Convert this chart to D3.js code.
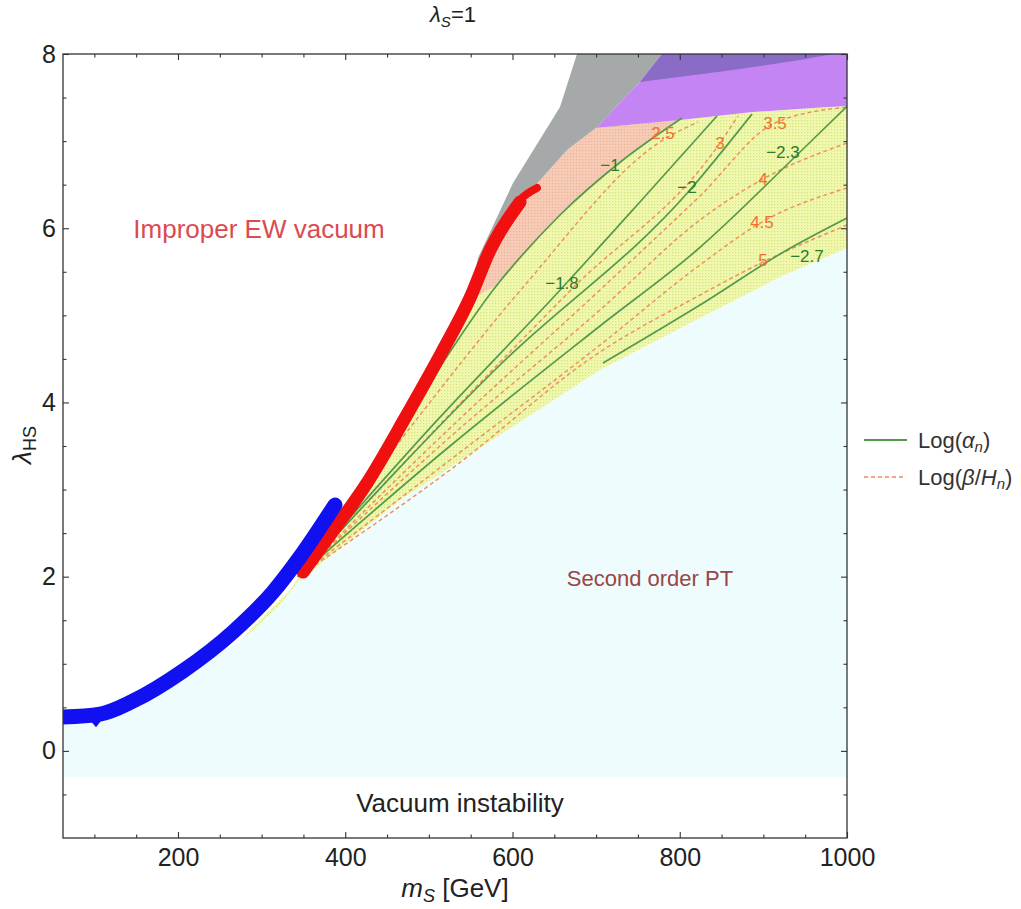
<!DOCTYPE html>
<html><head><meta charset="utf-8">
<script src="https://cdn.jsdelivr.net/npm/d3@7"></script>
<style>
body{margin:0;background:#fff;}
text{font-family:"Liberation Sans",Arial,Helvetica,sans-serif;}
</style>
</head><body>
<svg id="chart" width="1021" height="909"></svg>
<script>
// ---------- data (m_S [GeV], lambda_HS) ----------
const xDomain = [62.5, 1000];
const yDomain = [-1, 8];
const xTicks = [200, 400, 600, 800, 1000];
const yTicks = [0, 2, 4, 6, 8];
const xMinorTicks = [100,150,250,300,350,450,500,550,650,700,750,850,900,950];
const yMinorTicks = [-0.5,0.5,1,1.5,2.5,3,3.5,4.5,5,5.5,6.5,7,7.5];

// second-order PT region (light cyan)
const cyanRegion = [[62.5,-0.3],[1000,-0.3],[1000,5.773],[919.9,5.44],[824.2,4.969],[704.6,4.372],[585,3.626],[465.5,2.88],[343.5,1.939],[322,1.675],[274.1,1.25],[206,0.917],[146.2,0.572],[106.7,0.423],[62.5,0.389]];
// first-order PT region (yellow)
const yellowRegion = [[274.1,1.25],[322,1.675],[343.5,1.939],[465.5,2.88],[585,3.626],[704.6,4.372],[824.2,4.969],[919.9,5.44],[1000,5.773],[1000,7.403],[959.3,7.38],[887.5,7.334],[800.3,7.242],[699.8,7.15],[617.3,6.381],[549.2,5.176],[465.5,3.798],[381.8,2.536],[333.9,1.847],[286.1,1.388]];
const pinkRegion = [[699.8,7.15],[800.3,7.242],[732.1,6.783],[656.8,6.152],[581.5,5.348],[549.2,5.176],[579.1,5.693],[617.3,6.381],[665.2,6.898]];
const grayRegion = [[677.1,8.0],[778.8,8.0],[752.4,7.679],[699.8,7.15],[665.2,6.898],[617.3,6.381],[579.1,5.693],[546.8,5.119],[558.7,5.658],[600.6,6.519],[656.8,7.392]];
const purpleRegion = [[752.4,7.679],[778.8,8.0],[1000,8.0],[1000,7.403],[959.3,7.38],[887.5,7.334],[800.3,7.242],[699.8,7.15]];
const darkPurpleRegion = [[752.4,7.679],[778.8,8.0],[983.2,8.0],[943.8,7.931],[863.6,7.816]];

// blue and red bands (centre lines)
const blueBand = [[62.5,0.389],[106.7,0.423],[146.2,0.572],[206,0.917],[265.8,1.365],[313.6,1.824],[345.9,2.226],[387.7,2.823]];
const blueNotch = [[94,0.36],[102,0.27],[110,0.37]];
const redBand = [[349.5,2.053],[381.8,2.478],[426.0,3.075],[471.5,3.821],[516.9,4.602],[549.2,5.199],[573.1,5.75],[609.0,6.30]];
const redBandTop = [[590.0,6.05],[609.0,6.324],[629.3,6.462]];

// contours of Log(alpha_n) (green, solid)
const alphaLines = [
  {label:"−1",   at:[716.6,6.726], pts:[[343.5,2.0],[465.5,3.706],[581.5,5.348],[656.8,6.152],[732.1,6.783],[802.7,7.265]]},
  {label:"−1.8", at:[659.2,5.371], pts:[[343.5,2.0],[501.3,3.706],[659.2,5.314],[752.4,6.301],[844.5,7.288]]},
  {label:"−2",   at:[808.6,6.473], pts:[[343.5,2.0],[585.0,4.43],[812.2,6.439],[886.4,7.311]]},
  {label:"−2.3", at:[923.4,6.875], pts:[[343.5,2.0],[525.3,3.5],[704.6,4.878],[820.6,5.75],[943.8,6.875],[1000,7.40]]},
  {label:"−2.7", at:[952.1,5.681], pts:[[708.2,4.453],[824.2,5.119],[928.2,5.75],[1000,6.117]]}
];
// contours of Log(beta/H_n) (orange, dashed)
const betaLines = [
  {label:"2.5", at:[780.0,7.093], pts:[[343.5,2.0],[489.4,3.856],[614.9,5.348],[780.0,7.013],[821.8,7.219]]},
  {label:"3",   at:[848.1,6.978], pts:[[343.5,2.0],[525.3,3.867],[672.3,5.314],[848.1,6.978],[869.6,7.288]]},
  {label:"3.5", at:[913.9,7.208], pts:[[343.5,2.0],[525.3,3.706],[704.6,5.291],[824.2,6.37],[913.9,7.208],[1000,7.39]]},
  {label:"4",   at:[899.5,6.565], pts:[[343.5,2.0],[525.3,3.603],[704.6,5.061],[824.2,6.094],[899.5,6.565],[1000,6.978]]},
  {label:"4.5", at:[898.3,6.071], pts:[[343.5,2.0],[525.3,3.339],[704.6,4.659],[824.2,5.578],[898.3,6.071],[1000,6.462]]},
  {label:"5",   at:[899.5,5.635], pts:[[343.5,2.0],[525.3,3.224],[704.6,4.579],[824.2,5.233],[899.5,5.612],[1000,6.037]]}
];

const regionLabels = [
  {text:"Improper EW vacuum", at:[296.9,5.99], color:"#dc4a4e", size:26},
  {text:"Second order PT",    at:[764.4,1.985], color:"#9a4646", size:22},
  {text:"Vacuum instability", at:[537.2,-0.6], color:"#222222", size:26}
];

// ---------- layout ----------
const M = {left:63, top:54, width:784, height:784};
const svg = d3.select("#chart");
const x = d3.scaleLinear().domain(xDomain).range([M.left, M.left+M.width]);
const y = d3.scaleLinear().domain(yDomain).range([M.top+M.height, M.top]);

const defs = svg.append("defs");
defs.append("clipPath").attr("id","clip").append("rect")
  .attr("x",M.left).attr("y",M.top).attr("width",M.width).attr("height",M.height);
function mkPattern(id, base, dot){
  const p = defs.append("pattern").attr("id",id).attr("width",3).attr("height",3)
    .attr("patternUnits","userSpaceOnUse");
  p.append("rect").attr("width",3).attr("height",3).attr("fill",base);
  p.append("rect").attr("width",1.2).attr("height",1.2).attr("fill",dot);
}
mkPattern("yel","#f0f8b0","#d6e676");
mkPattern("pnk","#f7ccb6","#eeb098");

const plot = svg.append("g").attr("clip-path","url(#clip)");
const poly = d3.line().x(d=>x(d[0])).y(d=>y(d[1]));
const curve = d3.line().x(d=>x(d[0])).y(d=>y(d[1])).curve(d3.curveMonotoneX);

plot.append("path").datum(cyanRegion).attr("d", d=>poly(d)+"Z").attr("fill","#eefcfd");
plot.append("path").datum(yellowRegion).attr("d", d=>poly(d)+"Z").attr("fill","url(#yel)");
plot.append("path").datum(pinkRegion).attr("d", d=>poly(d)+"Z").attr("fill","url(#pnk)");
plot.append("path").datum(grayRegion).attr("d", d=>poly(d)+"Z").attr("fill","#a6a9a9");
plot.append("path").datum(purpleRegion).attr("d", d=>poly(d)+"Z").attr("fill","#c484f4");
plot.append("path").datum(darkPurpleRegion).attr("d", d=>poly(d)+"Z").attr("fill","#8a6cc6");

// contour lines
plot.selectAll(".beta").data(betaLines).join("path")
  .attr("d", d=>curve(d.pts)).attr("fill","none")
  .attr("stroke","#ee9060").attr("stroke-width",1.5).attr("stroke-dasharray","4,3");
plot.selectAll(".alpha").data(alphaLines).join("path")
  .attr("d", d=>curve(d.pts)).attr("fill","none")
  .attr("stroke","#559a4c").attr("stroke-width",1.7);

// red and blue bands
plot.append("path").datum(redBand).attr("d", curve).attr("fill","none")
  .attr("stroke","#f01010").attr("stroke-width",13).attr("stroke-linecap","round");
plot.append("path").datum(redBandTop).attr("d", curve).attr("fill","none")
  .attr("stroke","#f01010").attr("stroke-width",8).attr("stroke-linecap","round");
plot.append("path").datum(blueBand).attr("d", curve).attr("fill","none")
  .attr("stroke","#1010f0").attr("stroke-width",15).attr("stroke-linecap","round");
plot.append("path").datum(blueNotch).attr("d", d=>poly(d)+"Z").attr("fill","#1010f0");

// contour labels
svg.selectAll(".alab").data(alphaLines).join("text")
  .attr("x", d=>x(d.at[0])).attr("y", d=>y(d.at[1])).attr("dy","0.35em")
  .attr("text-anchor","middle").attr("font-size",17).attr("fill","#2f7a2f").text(d=>d.label);
svg.selectAll(".blab").data(betaLines).join("text")
  .attr("x", d=>x(d.at[0])).attr("y", d=>y(d.at[1])).attr("dy","0.35em")
  .attr("text-anchor","middle").attr("font-size",17).attr("fill","#f07030").text(d=>d.label);

// region labels
svg.selectAll(".rlab").data(regionLabels).join("text")
  .attr("x", d=>x(d.at[0])).attr("y", d=>y(d.at[1])).attr("dy","0.35em")
  .attr("text-anchor","middle").attr("font-size",d=>d.size).attr("fill",d=>d.color).text(d=>d.text);

// frame and ticks
svg.append("rect").attr("x",M.left).attr("y",M.top).attr("width",M.width).attr("height",M.height)
  .attr("fill","none").attr("stroke","#333").attr("stroke-width",1.3);
const gBottom = svg.append("g").attr("transform",`translate(0,${M.top+M.height})`)
  .call(d3.axisBottom(x).tickValues(xTicks).tickSize(-6).tickPadding(10).tickFormat(d3.format("d")));
const gBottomMinor = svg.append("g").attr("transform",`translate(0,${M.top+M.height})`)
  .call(d3.axisBottom(x).tickValues(xMinorTicks).tickSize(-3.5).tickFormat(""));
const gLeft = svg.append("g").attr("transform",`translate(${M.left},0)`)
  .call(d3.axisLeft(y).tickValues(yTicks).tickSize(-6).tickPadding(7).tickFormat(d3.format("d")));
const gLeftMinor = svg.append("g").attr("transform",`translate(${M.left},0)`)
  .call(d3.axisLeft(y).tickValues(yMinorTicks).tickSize(-3.5).tickFormat(""));
const gTop = svg.append("g").attr("transform",`translate(0,${M.top})`)
  .call(d3.axisTop(x).tickValues(xTicks).tickSize(-6).tickFormat(""));
const gTopMinor = svg.append("g").attr("transform",`translate(0,${M.top})`)
  .call(d3.axisTop(x).tickValues(xMinorTicks).tickSize(-3.5).tickFormat(""));
const gRight = svg.append("g").attr("transform",`translate(${M.left+M.width},0)`)
  .call(d3.axisRight(y).tickValues(yTicks).tickSize(-6).tickFormat(""));
const gRightMinor = svg.append("g").attr("transform",`translate(${M.left+M.width},0)`)
  .call(d3.axisRight(y).tickValues(yMinorTicks).tickSize(-3.5).tickFormat(""));
[gBottom,gBottomMinor,gLeft,gLeftMinor,gTop,gTopMinor,gRight,gRightMinor].forEach(g=>{
  g.select(".domain").remove();
  g.selectAll("line").attr("stroke","#333").attr("stroke-width",1.1);
  g.selectAll("text").attr("font-size",25).attr("fill","#222")
    .attr("font-family","'Liberation Sans',Arial,sans-serif");
});

// axis titles
const xl = svg.append("text").attr("x",455).attr("y",897).attr("text-anchor","middle")
  .attr("font-size",26).attr("fill","#222");
xl.append("tspan").attr("font-style","italic").text("m");
xl.append("tspan").attr("font-style","italic").attr("font-size",18).attr("dy",5).text("S");
xl.append("tspan").attr("dy",-5).text(" [GeV]");

const yl = svg.append("text").attr("transform","translate(31,445) rotate(-90)").attr("text-anchor","middle")
  .attr("font-size",26).attr("fill","#222");
yl.append("tspan").attr("font-style","italic").text("λ");
yl.append("tspan").attr("font-size",18).attr("dy",5).text("HS");

const tl = svg.append("text").attr("x",453).attr("y",22).attr("text-anchor","middle")
  .attr("font-size",22).attr("fill","#222");
tl.append("tspan").attr("font-style","italic").text("λ");
tl.append("tspan").attr("font-style","italic").attr("font-size",15).attr("dy",5).text("S");
tl.append("tspan").attr("dy",-5).text("=1");

// legend
const legend = svg.append("g").attr("transform","translate(864,440)");
legend.append("line").attr("x1",0).attr("x2",43).attr("y1",0).attr("y2",0)
  .attr("stroke","#559a4c").attr("stroke-width",2);
const lt1 = legend.append("text").attr("x",54).attr("y",0).attr("dy","0.35em").attr("font-size",22).attr("fill","#333");
lt1.append("tspan").text("Log(");
lt1.append("tspan").attr("font-style","italic").text("α");
lt1.append("tspan").attr("font-style","italic").attr("font-size",15).attr("dy",4).text("n");
lt1.append("tspan").attr("dy",-4).text(")");
legend.append("line").attr("x1",0).attr("x2",42).attr("y1",37).attr("y2",37)
  .attr("stroke","#ee8a58").attr("stroke-width",1.6).attr("stroke-dasharray","4,3");
const lt2 = legend.append("text").attr("x",54).attr("y",37).attr("dy","0.35em").attr("font-size",22).attr("fill","#333");
lt2.append("tspan").text("Log(");
lt2.append("tspan").attr("font-style","italic").text("β");
lt2.append("tspan").text("/");
lt2.append("tspan").attr("font-style","italic").text("H");
lt2.append("tspan").attr("font-style","italic").attr("font-size",15).attr("dy",4).text("n");
lt2.append("tspan").attr("dy",-4).text(")");
</script>
</body></html>
